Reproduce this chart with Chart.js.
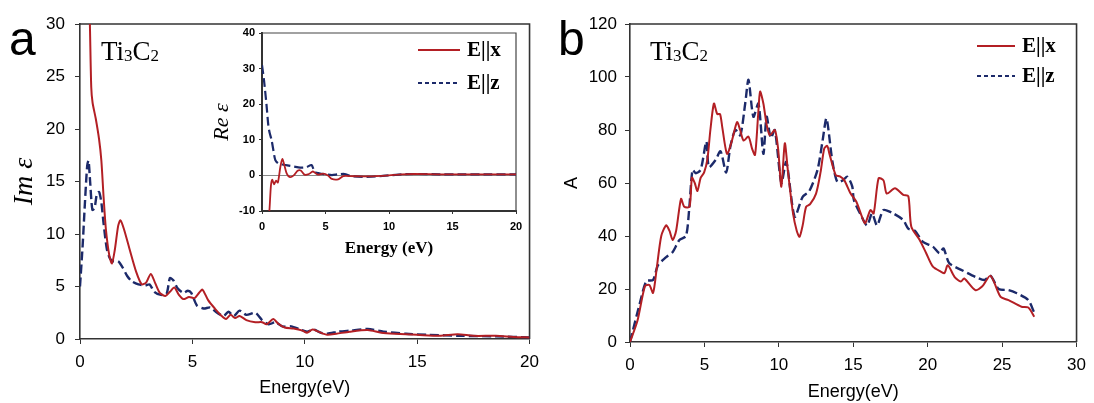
<!DOCTYPE html>
<html>
<head>
<meta charset="utf-8">
<script src="https://cdn.jsdelivr.net/npm/chart.js@4.4.1/dist/chart.umd.min.js"></script>
<style>
  body { margin: 0; background: #fff; }
  #wrap { position: relative; width: 1094px; height: 403px; overflow: hidden; }
  canvas { position: absolute; }
  #chartA { left: 0; top: 0; }
  #chartInset { left: 200px; top: 20px; }
  #chartB { left: 547px; top: 0; }
</style>
</head>
<body>
<div id="wrap">
  <canvas id="chartA" width="547" height="403"></canvas>
  <canvas id="chartInset" width="330" height="260"></canvas>
  <canvas id="chartB" width="547" height="403"></canvas>
</div>
<script>
// panel a, Im eps
const imE_x = [0.38, 0.44, 0.5, 0.56, 0.7, 0.85, 0.95, 1.05, 1.15, 1.3, 1.42, 1.55, 1.7, 1.8, 1.95, 2.2, 2.5, 2.75, 2.95, 3.15, 3.35, 3.55, 3.8, 4.0, 4.2, 4.4, 4.6, 4.85, 5.1, 5.3, 5.45, 5.7, 6.0, 6.3, 6.5, 6.7, 6.9, 7.1, 7.4, 7.8, 8.1, 8.3, 8.6, 8.8, 9.1, 9.5, 9.9, 10.1, 10.35, 10.6, 11.0, 11.4, 12.0, 12.8, 13.4, 14.0, 15.0, 16.0, 16.8, 17.5, 18.5, 19.3, 20];
const imVal_x = [35, 30, 24, 22.5, 21, 19, 17, 13.5, 10.5, 8, 7.2, 8.5, 10.8, 11.3, 10.5, 8.6, 6.4, 5.2, 5.4, 6.2, 5.3, 4.4, 4.1, 4.5, 4.9, 4.2, 3.8, 4.0, 3.9, 4.4, 4.7, 3.7, 2.9, 2.2, 1.9, 2.3, 2.0, 2.2, 1.8, 1.6, 1.6, 1.4, 1.9, 1.5, 1.1, 1.0, 0.8, 0.6, 0.9, 0.7, 0.4, 0.5, 0.7, 0.85, 0.6, 0.5, 0.4, 0.3, 0.45, 0.3, 0.3, 0.2, 0.15];
const imE_z = [0, 0.12, 0.22, 0.32, 0.38, 0.45, 0.55, 0.65, 0.75, 0.85, 0.95, 1.05, 1.2, 1.35, 1.5, 1.7, 1.9, 2.1, 2.3, 2.6, 2.9, 3.1, 3.3, 3.6, 3.85, 4.0, 4.15, 4.35, 4.6, 4.8, 4.95, 5.2, 5.5, 5.8, 6.1, 6.4, 6.6, 6.85, 7.1, 7.4, 7.8, 8.1, 8.4, 8.7, 9.0, 9.4, 9.8, 10.1, 10.4, 10.7, 11.0, 11.5, 12.0, 12.8, 13.5, 14.5, 15.5, 17.0, 18.5, 20];
const imVal_z = [5, 9, 13, 16.5, 17, 15, 12.3, 12.5, 13.8, 14, 13, 11, 8.5, 7.6, 7.4, 7.4, 6.8, 6.0, 5.5, 5.2, 5.1, 5.2, 4.5, 4.2, 4.3, 5.8, 5.6, 4.8, 4.4, 4.6, 4.4, 3.2, 2.9, 3.0, 2.5, 2.2, 2.6, 2.2, 2.7, 2.3, 2.5, 1.8, 1.4, 1.6, 1.2, 1.2, 0.9, 0.7, 0.9, 0.6, 0.5, 0.7, 0.8, 0.95, 0.7, 0.5, 0.4, 0.3, 0.25, 0.15];

// inset, Re eps
const reE_x = [0.5, 0.6, 0.7, 0.8, 0.95, 1.1, 1.25, 1.45, 1.6, 1.75, 1.95, 2.2, 2.5, 2.8, 3.05, 3.35, 3.7, 4.0, 4.4, 4.8, 5.2, 5.5, 6.0, 6.4, 7.0, 8.0, 9.0, 10.0, 11.0, 12.0, 14.0, 16.0, 18.0, 20.0];
const reVal_x = [-14, -9, -3, -1.2, -2.5, -1.5, -2.0, 2.5, 4.6, 3.0, 0.5, -0.5, 0, 1.3, 1.4, 0.2, 0.4, 1.1, 0.2, 0.5, 0, -1.0, -1.1, -0.2, -0.2, -0.3, -0.2, 0, 0.3, 0.4, 0.3, 0.3, 0.3, 0.3];
const reE_z = [0, 0.15, 0.35, 0.5, 0.6, 0.75, 0.9, 1.05, 1.3, 1.7, 2.0, 2.5, 3.0, 3.5, 3.9, 4.15, 4.5, 5.0, 5.5, 6.0, 6.5, 7.0, 8.0, 9.0, 10, 11, 12, 14, 16, 18, 20];
const reVal_z = [31, 27, 20, 14, 12, 10, 7, 4.3, 3.3, 3.0, 2.8, 2.5, 2.2, 2.3, 2.9, 1.0, 0.6, 0.3, 0.1, 0.3, 0.4, -0.2, -0.4, -0.3, 0, 0.3, 0.4, 0.3, 0.3, 0.3, 0.3];

// panel b, absorption A
const abE_x = [0, 0.5, 1.0, 1.3, 1.55, 1.8, 2.1, 2.43, 2.65, 2.87, 3.1, 3.43, 3.65, 4.0, 4.16, 4.35, 4.53, 4.75, 4.98, 5.2, 5.4, 5.64, 5.86, 6.05, 6.2, 6.52, 6.85, 7.19, 7.4, 7.63, 7.96, 8.2, 8.4, 8.6, 8.74, 8.96, 9.18, 9.4, 9.73, 9.95, 10.17, 10.4, 10.6, 10.95, 11.2, 11.39, 11.6, 11.83, 12.1, 12.5, 12.8, 13.05, 13.25, 13.4, 13.82, 14.1, 14.4, 14.82, 15.2, 15.6, 15.8, 16.15, 16.37, 16.7, 17.03, 17.25, 17.8, 18.36, 18.7, 18.9, 19.46, 19.9, 20.35, 20.9, 21.13, 21.35, 21.8, 22.23, 22.45, 23.2, 23.67, 24.22, 24.9, 25.43, 26.3, 26.76, 27.16];
const abVal_x = [0, 8, 21, 21.5, 18.5, 28, 40, 44, 42, 38.5, 42, 54, 51, 51, 62, 60, 57, 62, 64, 69, 80, 90, 86, 86, 81, 71, 76, 83, 80, 76, 77.5, 73, 70.6, 85, 94.5, 90, 82, 78, 80, 73, 58.6, 75, 65, 48.6, 42, 39.7, 44, 51, 52, 56, 64, 73, 74, 71, 63, 62.5, 61, 56, 53, 47, 44.8, 49.8, 48.5, 61.8, 61, 56, 58, 55.5, 55, 43.5, 38.5, 33.5, 28.4, 26.5, 26, 29, 24.6, 22.8, 24, 19.6, 21, 25, 17, 15.8, 13.3, 13, 9.5];
const abE_z = [0, 0.66, 1.1, 1.55, 1.88, 2.43, 2.87, 3.32, 3.76, 3.98, 4.2, 4.42, 4.75, 5.13, 5.3, 5.75, 6.08, 6.46, 6.75, 7.08, 7.41, 7.74, 7.96, 8.29, 8.63, 8.96, 9.18, 9.46, 9.73, 10.17, 10.5, 11.06, 11.6, 12.05, 12.6, 12.94, 13.2, 13.6, 13.93, 14.3, 14.6, 14.93, 15.04, 15.5, 15.93, 16.26, 16.6, 17.03, 17.69, 18.36, 18.69, 19.13, 19.68, 20.35, 20.79, 21.06, 21.45, 22.34, 23.2, 23.8, 24.22, 24.77, 25.43, 25.99, 26.76, 27.16];
const abVal_z = [0, 14.6, 23, 23.4, 29, 32, 34, 38.5, 40, 50.4, 65, 63.7, 65, 75.6, 66, 68.7, 72, 64, 74, 80, 78, 90, 98.9, 85, 90, 71, 85, 77, 80, 60, 68, 47.3, 54.8, 57, 65, 76, 84.4, 68, 60.4, 61, 62.4, 58.7, 53.6, 48, 44, 48.5, 44, 49.8, 48.5, 46, 42.8, 42, 37.8, 36, 33.5, 35.3, 29.7, 27, 24.6, 23.4, 25, 20, 19.6, 18.4, 15.8, 11];

const seriesNames = ['E||x', 'E||z'];

const RED = '#b31f24';
const NAVY = '#1c2a6a';
const SANS = "'Liberation Sans', Arial, sans-serif";
const SERIF = "'Liberation Serif', 'Times New Roman', serif";

function pts(xs, ys) {
  return xs.map((x, i) => ({ x: x, y: ys[i] }));
}

function makeSets(xa, ya, xb, yb, w) {
  return [
    { label: seriesNames[0], data: pts(xa, ya), borderColor: RED, borderWidth: w, pointRadius: 0, tension: 0.25 },
    { label: seriesNames[1], data: pts(xb, yb), borderColor: NAVY, borderWidth: w + 0.4, borderDash: [9, 4], pointRadius: 0, tension: 0.25 }
  ];
}

// top and right edges of the box
const frame = {
  id: 'frame',
  beforeDatasetsDraw(chart, args, opts) {
    const { ctx, chartArea: a } = chart;
    ctx.save();
    ctx.strokeStyle = opts.color || '#333';
    ctx.lineWidth = opts.width || 1.5;
    ctx.beginPath();
    ctx.moveTo(a.left, a.top);
    ctx.lineTo(a.right, a.top);
    ctx.lineTo(a.right, a.bottom);
    ctx.stroke();
    ctx.restore();
  }
};

// legend drawn inside the plot
const lineLegend = {
  id: 'lineLegend',
  afterDraw(chart, args, opts) {
    if (opts.x === undefined) return;
    const ctx = chart.ctx;
    chart.data.datasets.forEach((ds, i) => {
      const y = opts.y + i * opts.gap;
      ctx.save();
      ctx.strokeStyle = ds.borderColor;
      ctx.lineWidth = 2.2;
      ctx.setLineDash(i ? [4, 3] : []);
      ctx.beginPath();
      ctx.moveTo(opts.x, y);
      ctx.lineTo(opts.x + opts.len, y);
      ctx.stroke();
      ctx.setLineDash([]);
      ctx.fillStyle = '#000';
      ctx.font = 'bold 21px ' + SERIF;
      ctx.textBaseline = 'middle';
      ctx.fillText(ds.label, opts.x + opts.len + 7, y + 1);
      ctx.restore();
    });
  }
};

// panel letter and formula label
const marks = {
  id: 'marks',
  afterDraw(chart, args, opts) {
    const ctx = chart.ctx;
    ctx.save();
    ctx.fillStyle = '#000';
    ctx.textBaseline = 'alphabetic';
    if (opts.letter) {
      ctx.font = '48px ' + SANS;
      ctx.fillText(opts.letter, opts.lx, opts.ly);
    }
    if (opts.fx !== undefined) {
      let x = opts.fx;
      [['Ti', 27, 0], ['3', 17, 1], ['C', 27, 0], ['2', 17, 1]].forEach(p => {
        ctx.font = p[1] + 'px ' + SERIF;
        ctx.fillText(p[0], x, opts.fy + p[2]);
        x += ctx.measureText(p[0]).width;
      });
    }
    ctx.restore();
  }
};

function axis(min, max, step, opts) {
  return {
    type: 'linear', min: min, max: max,
    ticks: { stepSize: step, color: '#000', padding: opts.pad, font: opts.tickFont },
    grid: { drawOnChartArea: false, drawTicks: true, tickLength: opts.tl, tickColor: '#333' },
    border: { color: '#333', width: opts.bw },
    title: { display: true, text: opts.title, color: '#000', font: opts.titleFont, padding: opts.titlePad },
    afterFit: opts.fit
  };
}

new Chart(document.getElementById('chartA'), {
  type: 'line',
  data: { datasets: makeSets(imE_x, imVal_x, imE_z, imVal_z, 2) },
  options: {
    responsive: false, animation: false,
    layout: { padding: { top: 24, right: 16, left: 0, bottom: 0 } },
    scales: {
      x: axis(0, 20, 5, { pad: 8, tl: 5, bw: 1.6, tickFont: { family: SANS, size: 17 },
        title: 'Energy(eV)', titleFont: { family: SANS, size: 18 }, titlePad: { top: 0, bottom: 4 },
        fit: s => { s.height = 64; } }),
      y: axis(0, 30, 5, { pad: 10, tl: 5, bw: 1.6, tickFont: { family: SANS, size: 17 },
        title: 'Im ε', titleFont: { family: SERIF, size: 28, style: 'italic' }, titlePad: { top: 8, bottom: 0 },
        fit: s => { s.width = 80; } })
    },
    plugins: {
      legend: { display: false }, tooltip: { enabled: false },
      frame: { color: '#333', width: 1.6 },
      marks: { letter: 'a', lx: 9, ly: 55, fx: 101, fy: 60 }
    }
  },
  plugins: [frame, marks]
});

new Chart(document.getElementById('chartInset'), {
  type: 'line',
  data: { datasets: makeSets(reE_x, reVal_x, reE_z, reVal_z, 1.8) },
  options: {
    responsive: false, animation: false,
    layout: { padding: { top: 13, right: 14, left: 0, bottom: 0 } },
    scales: {
      x: axis(0, 20, 5, { pad: 6, tl: 3, bw: 2, tickFont: { family: SANS, size: 11, weight: 'bold' },
        title: 'Energy (eV)', titleFont: { family: SERIF, size: 17, weight: 'bold' }, titlePad: { top: 0, bottom: 21 },
        fit: s => { s.height = 69; } }),
      y: Object.assign(axis(-10, 40, 10, { pad: 4, tl: 3, bw: 2, tickFont: { family: SANS, size: 11, weight: 'bold' },
        title: 'Re ε', titleFont: { family: SERIF, size: 22, style: 'italic' }, titlePad: { top: 9, bottom: 0 },
        fit: s => { s.width = 62; } }), {
        grid: { drawOnChartArea: true, drawTicks: true, tickLength: 3, tickColor: '#333',
          color: c => c.tick && c.tick.value === 0 ? '#888' : 'rgba(0,0,0,0)' }
      })
    },
    plugins: {
      legend: { display: false }, tooltip: { enabled: false },
      frame: { color: '#444', width: 1.2 },
      lineLegend: { x: 218, y: 30, gap: 33, len: 42 }
    }
  },
  plugins: [frame, lineLegend]
});

new Chart(document.getElementById('chartB'), {
  type: 'line',
  data: { datasets: makeSets(abE_x, abVal_x, abE_z, abVal_z, 2) },
  options: {
    responsive: false, animation: false,
    layout: { padding: { top: 24, right: 12, left: 0, bottom: 0 } },
    scales: {
      x: axis(0, 30, 5, { pad: 8, tl: 5, bw: 1.6, tickFont: { family: SANS, size: 17 },
        title: 'Energy(eV)', titleFont: { family: SANS, size: 18 }, titlePad: { top: 0, bottom: 0 },
        fit: s => { s.height = 61; } }),
      y: axis(0, 120, 20, { pad: 8, tl: 5, bw: 1.6, tickFont: { family: SANS, size: 17 },
        title: 'A', titleFont: { family: SANS, size: 18 }, titlePad: { top: 14, bottom: 0 },
        fit: s => { s.width = 83; } })
    },
    plugins: {
      legend: { display: false }, tooltip: { enabled: false },
      frame: { color: '#333', width: 1.6 },
      lineLegend: { x: 430, y: 46, gap: 30, len: 38 },
      marks: { letter: 'b', lx: 11, ly: 55, fx: 103, fy: 60 }
    }
  },
  plugins: [frame, lineLegend, marks]
});
</script>
</body>
</html>
